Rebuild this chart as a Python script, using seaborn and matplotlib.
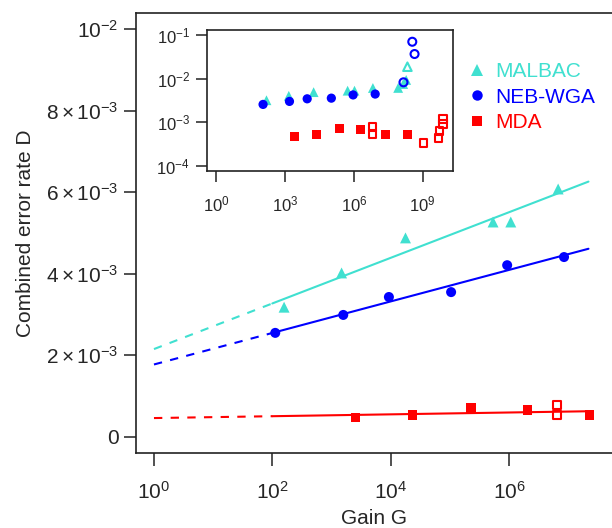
"""
Combined error rate vs gain for three WGA methods, with log-log inset
"""

import numpy as np
import pandas as pd
import seaborn as sns
import matplotlib.pyplot as plt
from matplotlib.lines import Line2D

methods = ['MALBAC', 'NEB-WGA', 'MDA']
colors = {'MALBAC': '#40e0d0', 'NEB-WGA': '#0000ff', 'MDA': '#ff0000'}
markers = {'MALBAC': '^', 'NEB-WGA': 'o', 'MDA': 's'}

# filled points
malbac_gain = [158, 1480, 17800, 5.37e5, 1.07e6, 6.76e6, 8.5e7, 1.41e8, 1.9e8]
malbac_D = [3.18e-3, 4.02e-3, 4.88e-3, 5.27e-3, 5.27e-3, 6.08e-3, 6.1e-3, 7.5e-3, 9.3e-3]
neb_gain = [112, 1580, 9330, 1.05e5, 9.3e5, 8.5e6]
neb_D = [2.55e-3, 2.99e-3, 3.43e-3, 3.55e-3, 4.21e-3, 4.41e-3]
mda_gain = [2570, 23400, 2.29e5, 2.04e6, 2.29e7, 2.24e8]
mda_D = [0.48e-3, 0.53e-3, 0.71e-3, 0.66e-3, 0.53e-3, 0.51e-3]

# open points
malbac_open_gain = [2.15e8]
malbac_open_D = [1.87e-2]
neb_open_gain = [1.45e8, 3.5e8, 4.4e8]
neb_open_D = [8.2e-3, 7.0e-2, 3.66e-2]
mda_open_gain = [6.5e6, 6.5e6, 1.07e9, 4.8e9, 5.4e9, 7.9e9, 7.9e9]
mda_open_D = [0.78e-3, 0.53e-3, 3.3e-4, 4.3e-4, 6.3e-4, 1.17e-3, 0.89e-3]

main_yticks = [0, 2e-3, 4e-3, 6e-3, 8e-3, 1e-2]
main_yticklabels = ['0', r'$2\times10^{-3}$', r'$4\times10^{-3}$', r'$6\times10^{-3}$',
                    r'$8\times10^{-3}$', r'$10^{-2}$']
main_xticks = [1, 1e2, 1e4, 1e6]
inset_xticks = [1, 1e3, 1e6, 1e9]
inset_yticks = [1e-4, 1e-3, 1e-2, 1e-1]


def build(gains, ds):
    rows = []
    for m, g, d in zip(methods, gains, ds):
        for gi, di in zip(g, d):
            rows.append([m, gi, di])
    return pd.DataFrame(rows, columns=['method', 'gain', 'D'])


filled = build([malbac_gain, neb_gain, mda_gain], [malbac_D, neb_D, mda_D])
hollow = build([malbac_open_gain, neb_open_gain, mda_open_gain],
               [malbac_open_D, neb_open_D, mda_open_D])

sns.set_style('ticks')
plt.rcParams['font.family'] = ['Liberation Sans', 'DejaVu Sans']
plt.rcParams['mathtext.fontset'] = 'custom'
plt.rcParams['mathtext.rm'] = 'Liberation Sans'
plt.rcParams['mathtext.it'] = 'Liberation Sans:italic'
plt.rcParams['mathtext.bf'] = 'Liberation Sans:bold'

fig = plt.figure(figsize=(6.12, 5.28), dpi=100)
ax = fig.add_axes([0.2222, 0.1426, 0.7778, 0.8322])
ins = fig.add_axes([0.3377, 0.6767, 0.4030, 0.2665])

sizes_main = {'MALBAC': 62, 'NEB-WGA': 52, 'MDA': 46}
sizes_ins = {'MALBAC': 50, 'NEB-WGA': 44, 'MDA': 42}


def draw_points(a, sizes):
    sns.scatterplot(data=filled, x='gain', y='D', hue='method', style='method',
                    size='method', sizes=sizes, palette=colors, markers=markers,
                    edgecolor='none', legend=False, ax=a, zorder=3)
    for m in methods:
        sub = hollow[hollow.method == m]
        a.scatter(sub.gain, sub.D, marker=markers[m], s=sizes[m] * 0.75,
                  facecolors='none', edgecolors=colors[m], linewidths=1.5, zorder=3)


draw_points(ax, sizes_main)
draw_points(ins, sizes_ins)

# linear fits of D against log10(G), points shown in the main panel
for m in methods:
    sub = filled[(filled.method == m) & (filled.gain < 5e7)]
    k, b = np.polyfit(np.log10(sub.gain), sub.D, 1)
    xs = np.array([1, 1e2])
    ax.plot(xs, b + k * np.log10(xs), color=colors[m], lw=1.5, dashes=(4, 4), zorder=2)
    xs = np.array([1e2, 2.2e7])
    ax.plot(xs, b + k * np.log10(xs), color=colors[m], lw=1.5, zorder=2)

ax.set_xscale('log')
ax.set_xlim(10 ** -0.304, 10 ** 7.74)
ax.set_ylim(-0.39e-3, 10.39e-3)
ax.set_xticks(main_xticks)
ax.set_xticklabels([r'$10^{%d}$' % int(np.log10(t)) for t in main_xticks])
ax.minorticks_off()
ax.set_yticks(main_yticks)
ax.set_yticklabels(main_yticklabels)
ax.tick_params(direction='out', length=9, width=1.1, labelsize=15, color='#222222')
ax.tick_params(axis='x', pad=11)
ax.tick_params(axis='y', pad=3.5)
ax.spines['right'].set_visible(False)
for s in ['left', 'bottom', 'top']:
    ax.spines[s].set_linewidth(1.2)
    ax.spines[s].set_color('#222222')
ax.set_xlabel('Gain G', fontsize=15, labelpad=5)
ax.set_ylabel('Combined error rate D', fontsize=15, labelpad=8)

ins.set_xscale('log')
ins.set_yscale('log')
ins.set_xlim(10 ** -0.405, 10 ** 10.33)
ins.set_ylim(10 ** -4.115, 10 ** -0.885)
ins.set_xticks(inset_xticks)
ins.set_xticklabels([r'$10^{%d}$' % int(np.log10(t)) for t in inset_xticks])
ins.set_yticks(inset_yticks)
ins.set_yticklabels([r'$10^{%d}$' % int(np.log10(t)) for t in inset_yticks])
ins.minorticks_off()
ins.tick_params(direction='out', length=8, width=1.1, labelsize=12, color='#222222')
ins.tick_params(axis='x', pad=9)
ins.tick_params(axis='y', pad=4)
ins.set_xlabel('')
ins.set_ylabel('')
for s in ins.spines.values():
    s.set_linewidth(1.2)
    s.set_color('#222222')

handles = [Line2D([], [], ls='none', marker=markers[m], color=colors[m],
                  markersize=ms, markeredgewidth=0)
           for m, ms in zip(methods, [8.5, 7.5, 7])]
ax.legend(handles, methods, loc='upper left', bbox_to_anchor=(456 / 612, 1 - 52 / 528),
          bbox_transform=fig.transFigure, frameon=False, labelcolor='linecolor',
          handlelength=1.0, handletextpad=0.4, borderpad=0, labelspacing=0.3,
          fontsize=15)

fig.savefig('out.png', dpi=100)
